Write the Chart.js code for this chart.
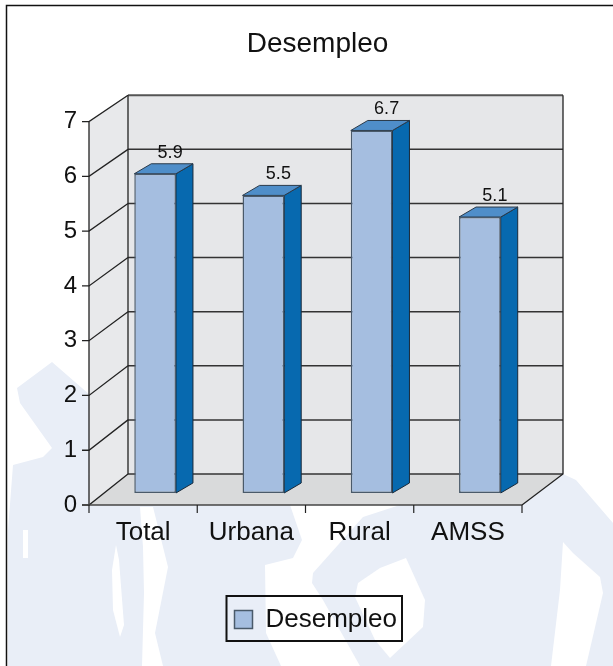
<!DOCTYPE html>
<html>
<head>
<meta charset="utf-8">
<script src="https://cdn.jsdelivr.net/npm/chart.js@4"></script>
<style>
html, body { margin: 0; padding: 0; background: #fff; }
#wrap { position: relative; width: 613px; height: 666px; overflow: hidden; }
</style>
</head>
<body>
<div id="wrap"><canvas id="grafico" width="613" height="666"></canvas></div>
<script>
const categorias = ['Total', 'Urbana', 'Rural', 'AMSS'];
const desempleo = [5.9, 5.5, 6.7, 5.1];
const ticksY = [0, 1, 2, 3, 4, 5, 6, 7];

// the watermark behind the chart, pale shape with white cut-outs
const fondoAzul = [[17,388],[52,362],[90,395],[90,505],[522,505],[563,474],[576,480],[613,523],[613,666],[8,666],[8,530],[13,465],[43,457],[52,448],[20,403]];
const huecos = [
  [[23,530],[28,530],[28,558],[23,558]],
  [[116,545],[119,560],[124,625],[120,637],[113,610],[112,570]],
  [[140,507],[153,507],[168,567],[155,633],[163,666],[142,666],[144,593],[143,547]],
  [[290,505],[302,540],[293,558],[265,565],[266,633],[281,666],[360,666],[323,600],[312,583],[313,573],[363,517],[400,505]],
  [[406,558],[425,600],[423,627],[390,658],[375,640],[355,597],[358,583],[380,568]],
  [[563,542],[573,553],[600,577],[603,593],[586,666],[551,666],[560,590]]
];

const profundo = { x: 39, y: -31 };   // front plane to back wall
const barraDesp = { x: 12 };          // bars sit a bit behind the front plane
const barraFondo = { x: 17, y: -10 };
const cajaLeyenda = { left: 226.5, top: 596, right: 402, bottom: 641 };

function poligono(ctx, pts, relleno, borde, ancho) {
  ctx.beginPath();
  pts.forEach((p, i) => i ? ctx.lineTo(p[0], p[1]) : ctx.moveTo(p[0], p[1]));
  ctx.closePath();
  if (relleno) { ctx.fillStyle = relleno; ctx.fill(); }
  if (borde) { ctx.strokeStyle = borde; ctx.lineWidth = ancho || 1; ctx.stroke(); }
}

const fondo3d = {
  id: 'fondo3d',
  afterLayout(chart) {
    // title and legend are not centred on the plot in the original
    chart.titleBlock.left = 22;
    chart.titleBlock.right = 613;
    const l = chart.legend;
    l.left = cajaLeyenda.left - 2;
    l.right = cajaLeyenda.right;
    l.top = cajaLeyenda.top + 1;
    l.bottom = cajaLeyenda.bottom + 1;
  },
  beforeDraw(chart) {
    const { ctx, chartArea: a } = chart;
    const yb = chart.scales.yBarra, yf = chart.scales.y;
    ctx.save();
    poligono(ctx, fondoAzul, '#e9eef7');
    huecos.forEach(h => poligono(ctx, h, '#ffffff'));
    ctx.strokeStyle = '#111';
    ctx.lineWidth = 1.5;
    ctx.beginPath();
    ctx.moveTo(6.5, 666); ctx.lineTo(6.5, 5.5); ctx.lineTo(613, 5.5);
    ctx.stroke();

    const x0 = a.left, x1 = a.right, y0 = yf.getPixelForValue(0), y7 = yf.getPixelForValue(7);
    const atrasY = v => yb.getPixelForValue(v) - 19;
    const bx0 = x0 + profundo.x, bx1 = x1 + profundo.x + 2, by0 = atrasY(0), by7 = atrasY(7);

    poligono(ctx, [[bx0, by7], [bx1, by7], [bx1, by0], [bx0, by0]], '#e6e7e9');
    poligono(ctx, [[x0, y7], [bx0, by7], [bx0, by0], [x0, y0]], '#e8e9eb');
    poligono(ctx, [[x0, y0], [bx0, by0], [bx1, by0], [x1, y0]], '#d9dadb');

    // grid: front tick, diagonal over the side wall, then across the back wall
    ticksY.forEach(v => {
      const yF = yf.getPixelForValue(v), yA = atrasY(v);
      ctx.strokeStyle = '#222';
      ctx.lineWidth = 1.3;
      ctx.beginPath();
      ctx.moveTo(x0 - 7, yF); ctx.lineTo(x0, yF); ctx.lineTo(bx0, yA);
      ctx.stroke();
      ctx.strokeStyle = v === 7 ? '#555' : '#333';
      ctx.lineWidth = v === 7 ? 2 : 1.5;
      ctx.beginPath();
      ctx.moveTo(bx0, yA); ctx.lineTo(bx1, yA);
      ctx.stroke();
    });

    // walls edges
    ctx.strokeStyle = '#222';
    ctx.lineWidth = 1.3;
    ctx.beginPath();
    ctx.moveTo(x0, y7); ctx.lineTo(x0, y0);
    ctx.moveTo(bx0, by7); ctx.lineTo(bx0, by0);
    ctx.moveTo(bx1, by7); ctx.lineTo(bx1, by0); ctx.lineTo(x1, y0);
    ctx.stroke();
    ctx.strokeStyle = '#444';
    ctx.lineWidth = 1.5;
    ctx.beginPath();
    ctx.moveTo(x0 - 7, y0); ctx.lineTo(x1, y0);
    ctx.stroke();

    // category ticks under the floor
    ctx.strokeStyle = '#222';
    ctx.lineWidth = 1.2;
    for (let i = 0; i <= categorias.length; i++) {
      const tx = x0 + (x1 - x0) * i / categorias.length;
      ctx.beginPath();
      ctx.moveTo(tx, y0); ctx.lineTo(tx, y0 + 8);
      ctx.stroke();
    }

    // box round the legend
    ctx.strokeStyle = '#111';
    ctx.lineWidth = 2;
    ctx.strokeRect(cajaLeyenda.left, cajaLeyenda.top, cajaLeyenda.right - cajaLeyenda.left, cajaLeyenda.bottom - cajaLeyenda.top);
    ctx.restore();
  },
  beforeDatasetsDraw(chart) {
    chart.ctx.save();
    chart.ctx.translate(barraDesp.x, 0);
    // side and top faces first, the library then paints the front face on top
    const ctx = chart.ctx;
    chart.getDatasetMeta(0).data.forEach(b => {
      const izq = b.x - b.width / 2, der = b.x + b.width / 2;
      const dx = barraFondo.x, dy = barraFondo.y;
      poligono(ctx, [[der, b.y], [der + dx, b.y + dy], [der + dx, b.base + dy], [der, b.base]], '#0769af', '#1a2a3a', 1);
      poligono(ctx, [[izq, b.y], [izq + dx, b.y + dy], [der + dx, b.y + dy], [der, b.y]], '#4f8ec9', '#2a3a4a', 1);
    });
  },
  afterDatasetsDraw(chart) {
    chart.ctx.restore();
    // value labels over the bars
    const { ctx } = chart;
    ctx.save();
    ctx.font = '18px "Liberation Sans"';
    ctx.fillStyle = '#111';
    ctx.textAlign = 'center';
    ctx.textBaseline = 'middle';
    chart.getDatasetMeta(0).data.forEach((b, i) => {
      ctx.fillText(desempleo[i].toFixed(1), b.x + barraDesp.x + 15, b.y - 21);
    });
    ctx.restore();
  }
};

new Chart(document.getElementById('grafico'), {
  type: 'bar',
  data: {
    labels: categorias,
    datasets: [{
      label: 'Desempleo',
      data: desempleo,
      yAxisID: 'yBarra',
      backgroundColor: '#a5bee0',
      borderColor: '#4a5a6a',
      borderWidth: 1.5,
      borderSkipped: false,
      barPercentage: 0.385,
      categoryPercentage: 1
    }]
  },
  plugins: [fondo3d],
  options: {
    responsive: false,
    animation: false,
    layout: { padding: { left: 0, right: 91, top: 0, bottom: 0 } },
    plugins: {
      title: {
        display: true,
        text: 'Desempleo',
        color: '#111',
        font: { family: 'Liberation Sans', size: 28, weight: 'normal' },
        padding: { top: 27, bottom: 61 }
      },
      legend: {
        display: true,
        position: 'chartArea',
        labels: {
          color: '#111',
          boxWidth: 18,
          boxHeight: 18,
          padding: 10,
          font: { family: 'Liberation Sans', size: 26 }
        }
      },
      tooltip: { enabled: false }
    },
    scales: {
      x: {
        afterFit(s) { s.height = 161; },
        grid: { display: false },
        border: { display: false },
        ticks: { color: '#111', font: { family: 'Liberation Sans', size: 26 }, padding: 4, maxRotation: 0 }
      },
      y: {
        min: 0, max: 7,
        position: 'left',
        afterFit(s) { s.width = 89; },
        grid: { display: false },
        border: { display: false },
        ticks: { color: '#111', stepSize: 1, font: { family: 'Liberation Sans', size: 24 }, padding: 4, labelOffset: 0 }
      },
      yBarra: {
        display: false,
        min: -0.222,
        max: 6.864
      }
    }
  }
});
</script>
</body>
</html>
